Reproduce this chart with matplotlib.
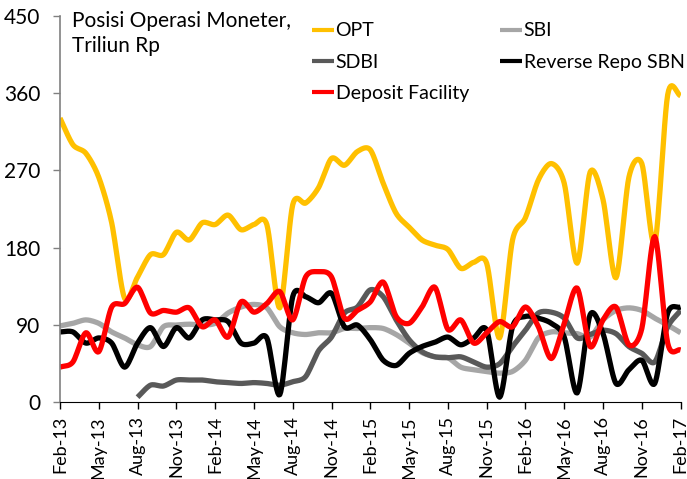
import numpy as np
import matplotlib
matplotlib.use('Agg')
import matplotlib.pyplot as plt

# monthly, Feb-13 .. Feb-17 (49 points)
opt = [331, 300, 290, 262, 209, 121, 146, 172, 172, 198, 189, 209, 207, 218, 201,
       207, 207, 110, 230, 232, 250, 284, 276, 292, 294, 255, 220, 204, 189, 183,
       178, 156, 163, 162, 75, 189, 215, 259, 278, 255, 162, 268, 236, 145, 262,
       278, 185, 358, 357]
sbi = [89, 92, 96, 92, 82, 75, 67, 65, 88, 90, 91, 90, 92, 104, 111,
       114, 110, 88, 81, 79, 81, 81, 86, 86, 87, 86, 79, 69, 58, 53,
       52, 41, 38, 36, 34, 36, 49, 75, 82, 81, 80, 76, 96, 107, 110,
       107, 98, 90, 81]
sdbi = [None] * 6 + [6, 20, 19, 26, 26, 26, 24, 23, 22,
       23, 22, 20, 24, 30, 60, 76, 104, 111, 131, 123, 96, 73, 59, 53,
       52, 53, 47, 41, 45, 65, 84, 104, 105, 98, 75, 79, 84, 80, 65,
       57, 47, 88, 107]
rrepo = [82, 82, 69, 75, 69, 41, 69, 87, 65, 87, 75, 96, 96, 94, 69,
         69, 75, 9, 123, 123, 116, 127, 88, 90, 73, 49, 43, 57, 65, 70,
         76, 67, 75, 84, 6, 88, 100, 98, 92, 76, 11, 102, 80, 22, 38,
         49, 22, 104, 111]
dfac = [41, 47, 81, 59, 111, 115, 134, 104, 107, 105, 110, 88, 96, 76, 117,
        105, 115, 129, 96, 146, 152, 146, 98, 107, 117, 140, 100, 92, 111, 134,
        85, 96, 69, 81, 94, 88, 111, 88, 51, 92, 133, 65, 96, 111, 67,
        86, 193, 69, 61]

tick_labels = ['Feb-13', 'May-13', 'Aug-13', 'Nov-13', 'Feb-14', 'May-14', 'Aug-14',
               'Nov-14', 'Feb-15', 'May-15', 'Aug-15', 'Nov-15', 'Feb-16', 'May-16',
               'Aug-16', 'Nov-16', 'Feb-17']

series = [('OPT', opt, '#FFC000'), ('SBI', sbi, '#A6A6A6'), ('SDBI', sdbi, '#595959'),
          ('Reverse Repo SBN', rrepo, '#000000'), ('Deposit Facility', dfac, '#FF0000')]


def smooth(x, y, n=12, tau=0.85):
    """Cardinal spline through the points, close to Excel's smoothed line"""
    x = np.asarray(x, float)
    y = np.asarray(y, float)
    px = np.concatenate([[2 * x[0] - x[1]], x, [2 * x[-1] - x[-2]]])
    py = np.concatenate([[2 * y[0] - y[1]], y, [2 * y[-1] - y[-2]]])
    t = np.linspace(0, 1, n, endpoint=False)
    h00 = 2 * t ** 3 - 3 * t ** 2 + 1
    h10 = t ** 3 - 2 * t ** 2 + t
    h01 = -2 * t ** 3 + 3 * t ** 2
    h11 = t ** 3 - t ** 2
    xs, ys = [], []
    for i in range(1, len(px) - 2):
        for p, out in ((px, xs), (py, ys)):
            m1 = tau * (p[i + 1] - p[i - 1]) / 2
            m2 = tau * (p[i + 2] - p[i]) / 2
            out.extend(h00 * p[i] + h10 * m1 + h01 * p[i + 1] + h11 * m2)
    xs.append(x[-1])
    ys.append(y[-1])
    return xs, ys


plt.rcParams['font.family'] = ['Lato', 'DejaVu Sans']

fig = plt.figure(figsize=(6.87, 4.79), dpi=100)
ax = fig.add_axes([0.0873, 0.160, 0.9034, 0.807])

lines = {}
for name, vals, col in series:
    xi = [i for i, v in enumerate(vals) if v is not None]
    yi = [v for v in vals if v is not None]
    sx, sy = smooth(xi, yi)
    lines[name], = ax.plot(sx, sy, color=col, lw=3.8, solid_capstyle='butt',
                           solid_joinstyle='round', label=name)

ax.set_xlim(0, 48)
ax.set_ylim(0, 450)
ax.set_yticks(np.arange(0, 451, 90))
ax.set_xticks(np.arange(0, 49, 3))
ax.set_xticklabels(tick_labels, rotation=90)
ax.tick_params(axis='both', width=1, colors='#000000')
ax.tick_params(axis='y', color='#808080', length=5, pad=9, labelsize=15)
ax.tick_params(axis='x', length=5, pad=5, labelsize=13)
for s in ('top', 'right'):
    ax.spines[s].set_visible(False)
ax.spines['left'].set_color('#808080')
ax.spines['left'].set_linewidth(1.2)
ax.spines['bottom'].set_color('#000000')

fig.text(72 / 687, 1 - 11 / 479, 'Posisi Operasi Moneter,\nTriliun Rp',
         ha='left', va='top', fontsize=15, linespacing=1.3)

leg_kw = dict(frameon=False, fontsize=14, handlelength=1.13, handletextpad=0.08,
              labelspacing=0.74, loc='upper left', borderpad=0, borderaxespad=0,
              bbox_transform=fig.transFigure)
left_names = ['OPT', 'SDBI', 'Deposit Facility']
right_names = ['SBI', 'Reverse Repo SBN']
leg1 = ax.legend([lines[n] for n in left_names], left_names,
                 bbox_to_anchor=(312 / 687, 1 - 22.5 / 479), **leg_kw)
ax.add_artist(leg1)
leg2 = ax.legend([lines[n] for n in right_names], right_names,
                 bbox_to_anchor=(500 / 687, 1 - 22.5 / 479), **leg_kw)
for lg in (leg1, leg2):
    for lh in lg.get_lines():
        lh.set_linewidth(3)

fig.savefig('out.png', dpi=100)
